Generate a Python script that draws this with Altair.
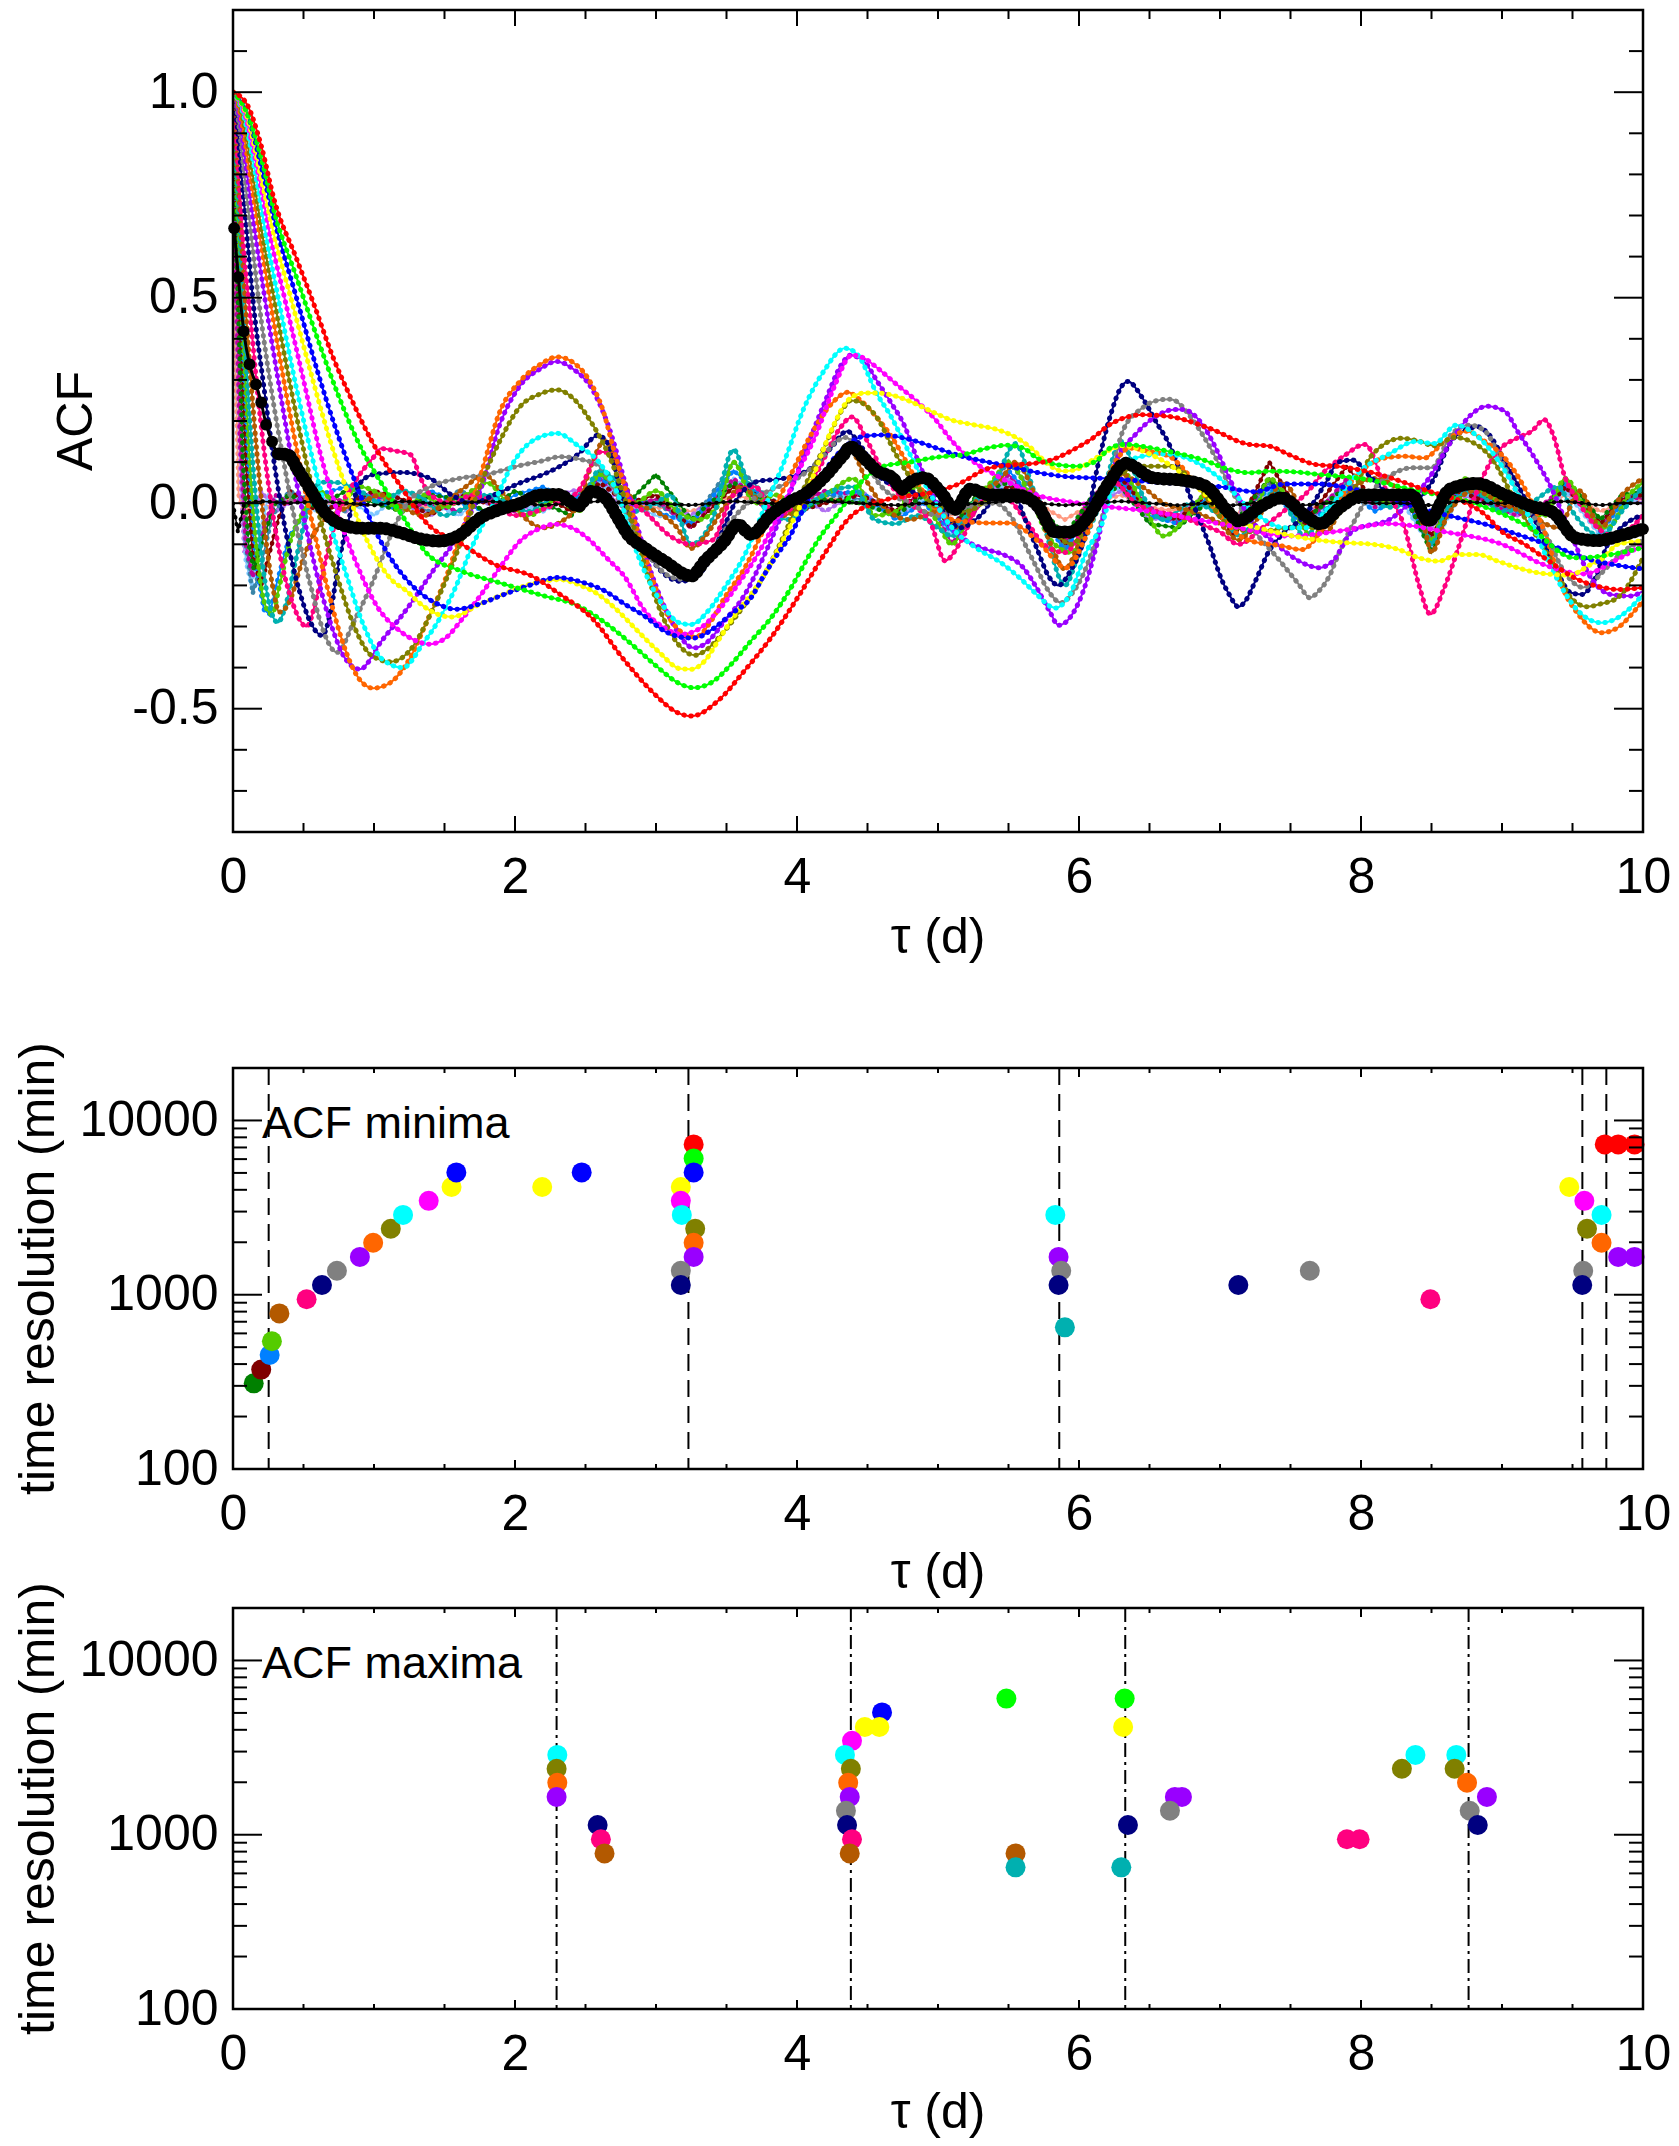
import altair as alt
import pandas as pd

FONT = "Liberation Sans"

# ---------------- ACF curves: (tau [d], ACF) ----------------
RED = [(0,1.0),(0.1,0.97),(0.2,0.87),(0.294,0.736),(0.447,0.598),(0.577,0.481),(0.706,0.358),(0.836,0.256),
       (0.989,0.148),(1.19,0.041),(1.38,-0.051),(1.61,-0.097),(1.85,-0.148),(2.13,-0.179),(2.32,-0.222),
       (2.544,-0.279),(2.78,-0.384),(2.968,-0.457),(3.156,-0.51),(3.25,-0.518),(3.439,-0.481),(3.627,-0.408),
       (3.816,-0.327),(4.004,-0.23),(4.192,-0.125),(4.37,-0.036),(4.6,0.005),(4.99,0.029),(5.134,0.045),
       (5.37,0.086),(5.77,0.102),(5.98,0.134),(6.1,0.159),(6.217,0.191),(6.45,0.215),(6.64,0.211),(6.92,0.183),
       (7.206,0.143),(7.347,0.139),(7.49,0.118),(7.68,0.094),(7.83,0.09),(8.06,0.076),(8.44,0.034),
       (8.88,-0.028),(8.995,-0.068),(9.16,-0.1),(9.3,-0.133),(9.54,-0.186),(9.729,-0.206),(9.824,-0.21),(10.0,-0.205)]

GREEN = [(0,1.0),(0.1,0.95),(0.2,0.84),(0.3,0.70),(0.45,0.55),(0.6,0.40),(0.75,0.26),(0.9,0.14),(1.05,0.05),
         (1.2,-0.03),(1.377,-0.123),(1.61,-0.164),(1.895,-0.194),(2.2,-0.225),(2.45,-0.25),(2.59,-0.279),
         (2.73,-0.315),(2.87,-0.356),(3.015,-0.4),(3.156,-0.437),(3.267,-0.449),(3.39,-0.437),(3.533,-0.392),
         (3.674,-0.335),(3.816,-0.279),(3.957,-0.206),(4.05,-0.149),(4.145,-0.092),(4.3,-0.02),(4.45,0.05),
         (4.616,0.09),(4.8,0.1),(4.993,0.112),(5.18,0.118),(5.35,0.134),(5.485,0.141),(5.605,0.134),(5.7,0.11),
         (5.84,0.094),(5.98,0.09),(6.12,0.102),(6.22,0.134),(6.324,0.143),(6.52,0.134),(6.69,0.122),(6.876,0.106),
         (7.065,0.082),(7.206,0.074),(7.347,0.078),(7.535,0.076),(7.7,0.07),(8.0,0.06),(8.4,0.03),(8.8,0.0),
         (9.2,-0.06),(9.51,-0.133),(9.7,-0.129),(9.85,-0.12),(10.0,-0.108)]

BLUE = [(0,1.0),(0.1,0.95),(0.2,0.82),(0.3,0.68),(0.45,0.5),(0.6,0.32),(0.75,0.16),(0.88,0.04),(1.0,-0.06),
        (1.15,-0.15),(1.3,-0.21),(1.45,-0.245),(1.584,-0.258),(1.75,-0.245),(1.9,-0.225),(2.1,-0.2),(2.3,-0.181),
        (2.473,-0.192),(2.64,-0.214),(2.78,-0.246),(2.92,-0.275),(3.06,-0.311),(3.2,-0.327),(3.267,-0.328),
        (3.415,-0.303),(3.53,-0.27),(3.674,-0.23),(3.77,-0.173),(3.86,-0.125),(3.957,-0.076),(4.05,-0.011),
        (4.2,0.08),(4.35,0.14),(4.475,0.163),(4.603,0.166),(4.8,0.155),(4.99,0.134),(5.13,0.118),(5.3,0.104),
        (5.5,0.09),(5.7,0.075),(5.9,0.065),(6.2,0.06),(6.6,0.05),(7.0,0.04),(7.25,0.028),(7.465,0.047),
        (7.68,0.047),(8.0,0.03),(8.5,-0.02),(8.97,-0.06),(9.11,-0.076),(9.25,-0.092),(9.4,-0.109),(9.6,-0.135),
        (9.8,-0.15),(10.0,-0.16)]

YELLOW = [(0,1.0),(0.1,0.94),(0.2,0.79),(0.3,0.64),(0.41,0.5),(0.55,0.32),(0.7,0.14),(0.82,0.02),(0.95,-0.09),
          (1.118,-0.184),(1.236,-0.215),(1.33,-0.245),(1.45,-0.27),(1.55,-0.277),(1.754,-0.245),(1.895,-0.225),
          (2.036,-0.205),(2.193,-0.19),(2.32,-0.186),(2.45,-0.198),(2.59,-0.222),(2.73,-0.262),(2.87,-0.311),
          (3.015,-0.36),(3.176,-0.403),(3.25,-0.404),(3.345,-0.384),(3.44,-0.335),(3.53,-0.287),(3.72,-0.2),
          (3.91,-0.084),(4.1,0.053),(4.24,0.175),(4.38,0.256),(4.481,0.268),(4.57,0.268),(4.66,0.264),(4.8,0.248),
          (4.95,0.224),(5.09,0.203),(5.25,0.191),(5.42,0.179),(5.558,0.159),(5.675,0.13),(5.77,0.098),
          (5.888,0.078),(5.98,0.082),(6.12,0.11),(6.313,0.14),(6.5,0.12),(6.7,0.08),(6.9,0.02),(7.1,-0.04),
          (7.32,-0.064),(7.465,-0.076),(7.7,-0.09),(7.89,-0.096),(8.08,-0.1),(8.27,-0.113),(8.41,-0.133),
          (8.55,-0.141),(8.69,-0.125),(8.83,-0.125),(8.97,-0.141),(9.11,-0.157),(9.25,-0.169),(9.35,-0.173),
          (9.477,-0.175),(9.63,-0.149),(9.72,-0.133),(9.82,-0.1),(10.0,-0.092)]

MAGENTA = [(0,1.0),(0.08,0.95),(0.18,0.8),(0.27,0.64),(0.365,0.5),(0.5,0.3),(0.62,0.12),(0.74,-0.02),(0.88,-0.15),
           (1.02,-0.25),(1.18,-0.31),(1.3,-0.335),(1.388,-0.343),(1.5,-0.33),(1.63,-0.28),(1.754,-0.225),
           (1.9,-0.153),(2.036,-0.092),(2.18,-0.061),(2.28,-0.051),(2.41,-0.061),(2.53,-0.09),(2.65,-0.133),
           (2.78,-0.18),(2.92,-0.262),(3.06,-0.303),(3.176,-0.319),(3.3,-0.307),(3.44,-0.262),(3.58,-0.198),
           (3.72,-0.125),(3.86,-0.036),(4.0,0.07),(4.145,0.175),(4.26,0.28),(4.39,0.36),(4.475,0.353),(4.57,0.329),
           (4.71,0.288),(4.85,0.248),(4.99,0.2),(5.09,0.155),(5.18,0.122),(5.28,0.094),(5.4,0.07),(5.7,0.02),
           (6.0,0.0),(6.5,-0.02),(7.0,-0.05),(7.5,-0.08),(7.8,-0.07),(8.2,-0.05),(8.6,-0.07),(9.0,-0.1),
           (9.3,-0.15),(9.584,-0.172),(9.8,-0.14),(10.0,-0.1)]

CYAN = [(0,1.0),(0.07,0.95),(0.16,0.8),(0.24,0.64),(0.32,0.5),(0.45,0.28),(0.57,0.1),(0.68,-0.04),(0.8,-0.17),
        (0.93,-0.3),(1.06,-0.38),(1.206,-0.4),(1.35,-0.34),(1.45,-0.29),(1.565,-0.215),(1.7,-0.102),(1.85,0.0),
        (1.99,0.1),(2.13,0.153),(2.3,0.17),(2.45,0.139),(2.59,0.102),(2.73,0.021),(2.87,-0.125),(3.015,-0.23),
        (3.183,-0.293),(3.25,-0.295),(3.37,-0.262),(3.486,-0.206),(3.63,-0.125),(3.77,-0.011),(3.91,0.102),
        (4.05,0.232),(4.19,0.321),(4.34,0.377),(4.43,0.361),(4.57,0.264),(4.66,0.215),(4.8,0.12),(4.95,0.02),
        (5.1,-0.06),(5.25,-0.104),(5.464,-0.149),(5.605,-0.19),(5.7,-0.222),(5.832,-0.255),(5.935,-0.222),
        (6.05,-0.12),(6.17,-0.044),(6.265,0.07),(6.4,0.11),(6.6,0.12),(6.8,0.105),(7.0,0.06),(7.2,-0.01),
        (7.465,-0.06),(7.6,-0.06),(7.8,0.0),(8.0,0.08),(8.2,0.12),(8.386,0.15),(8.52,0.145),(8.676,0.19),
        (8.8,0.17),(9.0,0.09),(9.2,-0.04),(9.35,-0.157),(9.54,-0.262),(9.706,-0.291),(9.82,-0.279),(10.0,-0.222)]

OLIVE = [(0,1.0),(0.06,0.95),(0.14,0.8),(0.21,0.65),(0.29,0.5),(0.41,0.28),(0.52,0.1),(0.62,-0.04),(0.74,-0.18),
         (0.86,-0.3),(0.98,-0.37),(1.119,-0.386),(1.25,-0.36),(1.42,-0.256),(1.61,-0.1),(1.75,0.04),(1.895,0.153),
         (2.036,0.235),(2.18,0.266),(2.295,0.276),(2.41,0.256),(2.544,0.195),(2.67,0.113),(2.83,-0.044),
         (2.97,-0.206),(3.11,-0.319),(3.278,-0.37),(3.345,-0.36),(3.486,-0.311),(3.63,-0.246),(3.77,-0.173),
         (3.91,-0.076),(4.05,0.037),(4.19,0.134),(4.33,0.232),(4.382,0.25),(4.43,0.248),(4.57,0.207),(4.7,0.12),
         (4.85,0.04),(5.0,-0.01),(5.2,-0.02),(5.4,0.02),(5.6,0.03),(5.8,-0.06),(5.95,-0.1),(6.1,-0.02),(6.3,0.07),
         (6.45,0.09),(6.64,0.09),(6.85,0.04),(7.05,-0.05),(7.25,-0.07),(7.5,-0.06),(7.7,-0.06),(7.9,0.0),
         (8.08,0.118),(8.29,0.158),(8.41,0.151),(8.52,0.14),(8.664,0.16),(8.78,0.15),(8.925,0.11),(9.1,0.0),
         (9.35,-0.141),(9.49,-0.23),(9.603,-0.252),(9.7,-0.245),(9.82,-0.23),(10.0,-0.133)]

ORANGE = [(0,1.0),(0.05,0.95),(0.12,0.8),(0.19,0.65),(0.26,0.5),(0.37,0.28),(0.47,0.1),(0.57,-0.06),(0.68,-0.22),
          (0.8,-0.36),(0.9,-0.43),(0.994,-0.45),(1.1,-0.44),(1.25,-0.38),(1.377,-0.286),(1.5,-0.19),(1.61,-0.082),
          (1.754,0.066),(1.895,0.225),(2.036,0.297),(2.18,0.338),(2.3,0.356),(2.41,0.343),(2.53,0.297),
          (2.625,0.225),(2.7,0.13),(2.78,0.037),(2.92,-0.125),(3.015,-0.222),(3.11,-0.287),(3.267,-0.325),
          (3.3,-0.323),(3.39,-0.287),(3.486,-0.23),(3.63,-0.157),(3.77,-0.06),(3.957,0.07),(4.1,0.167),(4.24,0.24),
          (4.363,0.27),(4.43,0.256),(4.57,0.207),(4.66,0.167),(4.76,0.11),(4.85,0.053),(4.95,0.0),(5.1,-0.04),
          (5.346,-0.048),(5.51,-0.048),(5.7,-0.09),(5.91,-0.157),(6.05,-0.08),(6.2,0.06),(6.36,0.134),(6.5,0.126),
          (6.64,0.114),(6.8,0.06),(7.0,-0.03),(7.2,-0.09),(7.44,-0.104),(7.58,-0.113),(7.75,-0.05),(7.95,0.06),
          (8.17,0.11),(8.31,0.114),(8.45,0.11),(8.59,0.15),(8.752,0.175),(8.88,0.15),(9.02,0.11),(9.16,0.037),
          (9.3,-0.068),(9.44,-0.214),(9.54,-0.27),(9.706,-0.315),(9.82,-0.303),(9.96,-0.254),(10.0,-0.238)]

PURPLE = [(0,1.0),(0.04,0.95),(0.1,0.8),(0.16,0.65),(0.225,0.5),(0.32,0.3),(0.41,0.12),(0.5,-0.03),(0.6,-0.18),
          (0.7,-0.3),(0.8,-0.38),(0.9,-0.404),(1.05,-0.337),(1.236,-0.256),(1.42,-0.164),(1.61,-0.072),
          (1.754,0.031),(1.895,0.194),(2.036,0.286),(2.18,0.327),(2.295,0.345),(2.41,0.327),(2.55,0.276),
          (2.65,0.2),(2.83,-0.011),(2.97,-0.173),(3.11,-0.287),(3.267,-0.352),(3.345,-0.343),(3.486,-0.287),
          (3.63,-0.222),(3.77,-0.125),(3.91,-0.011),(4.05,0.118),(4.19,0.24),(4.33,0.345),(4.374,0.36),
          (4.475,0.345),(4.57,0.296),(4.66,0.248),(4.76,0.19),(4.85,0.11),(4.95,0.03),(5.05,-0.04),(5.205,-0.092),
          (5.346,-0.113),(5.464,-0.125),(5.605,-0.157),(5.7,-0.206),(5.79,-0.262),(5.855,-0.297),(5.935,-0.279),
          (6.03,-0.214),(6.12,-0.109),(6.265,0.102),(6.4,0.167),(6.545,0.211),(6.68,0.228),(6.735,0.228),
          (6.876,0.191),(6.97,0.134),(7.065,0.062),(7.2,-0.03),(7.4,-0.1),(7.61,-0.149),(7.7,-0.157),(7.8,-0.141),
          (7.94,-0.068),(8.22,-0.036),(8.5,0.07),(8.64,0.151),(8.78,0.215),(8.893,0.236),(9.02,0.224),(9.11,0.175),
          (9.21,0.122),(9.35,0.037),(9.49,-0.076),(9.63,-0.181),(9.77,-0.222),(9.91,-0.226),(10.0,-0.214)]

GRAY = [(0,1.0),(0.03,0.95),(0.08,0.8),(0.13,0.65),(0.18,0.5),(0.27,0.28),(0.36,0.1),(0.45,-0.06),(0.55,-0.2),
        (0.64,-0.31),(0.737,-0.363),(0.86,-0.286),(1.0,-0.184),(1.14,-0.061),(1.236,0.0),(1.4,0.04),(1.6,0.06),
        (1.8,0.07),(2.04,0.092),(2.18,0.102),(2.32,0.113),(2.46,0.107),(2.6,0.09),(2.75,0.0),(2.9,-0.1),
        (3.09,-0.177),(3.176,-0.185),(3.3,-0.16),(3.39,-0.125),(3.5,-0.06),(3.65,0.0),(3.8,0.03),(4.0,0.06),
        (4.15,0.1),(4.28,0.15),(4.347,0.16),(4.45,0.12),(4.6,0.04),(4.8,0.0),(5.0,-0.03),(5.2,-0.01),(5.4,0.0),
        (5.55,-0.05),(5.63,-0.109),(5.7,-0.157),(5.77,-0.206),(5.874,-0.242),(5.95,-0.22),(6.03,-0.173),
        (6.17,-0.028),(6.31,0.175),(6.45,0.232),(6.59,0.252),(6.645,0.253),(6.69,0.248),(6.78,0.215),
        (6.876,0.167),(6.97,0.11),(7.1,0.02),(7.25,-0.07),(7.4,-0.13),(7.56,-0.198),(7.637,-0.23),(7.7,-0.214),
        (7.77,-0.181),(7.84,-0.125),(7.94,-0.052),(8.08,0.03),(8.22,0.07),(8.36,0.086),(8.5,0.086),(8.64,0.167),
        (8.771,0.19),(8.88,0.175),(9.0,0.1),(9.15,0.0),(9.3,-0.068),(9.44,-0.166),(9.576,-0.205),(9.65,-0.19),
        (9.72,-0.165),(9.85,-0.12),(10.0,-0.09)]

NAVY = [(0,1.0),(0.02,0.95),(0.06,0.8),(0.1,0.65),(0.14,0.5),(0.22,0.28),(0.3,0.08),(0.38,-0.08),(0.46,-0.2),
        (0.55,-0.29),(0.631,-0.322),(0.7,-0.25),(0.74,-0.164),(0.836,-0.02),(0.906,0.051),(1.0,0.07),(1.2,0.075),
        (1.4,0.06),(1.55,0.02),(1.7,0.0),(1.85,0.02),(2.04,0.05),(2.2,0.07),(2.32,0.09),(2.46,0.123),
        (2.586,0.165),(2.65,0.15),(2.78,-0.011),(2.92,-0.109),(3.06,-0.173),(3.176,-0.19),(3.25,-0.185),
        (3.345,-0.157),(3.44,-0.092),(3.58,0.013),(3.72,0.053),(3.9,0.06),(4.1,0.086),(4.24,0.134),(4.355,0.175),
        (4.45,0.14),(4.6,0.06),(4.8,0.03),(5.0,0.0),(5.15,-0.06),(5.3,-0.03),(5.45,0.03),(5.55,0.02),
        (5.605,-0.028),(5.7,-0.109),(5.79,-0.181),(5.855,-0.2),(5.93,-0.17),(6.03,-0.092),(6.12,0.07),
        (6.217,0.207),(6.31,0.288),(6.347,0.296),(6.45,0.256),(6.545,0.199),(6.64,0.143),(6.735,0.062),
        (6.83,-0.019),(6.923,-0.1),(7.017,-0.19),(7.065,-0.222),(7.13,-0.252),(7.18,-0.238),(7.25,-0.19),
        (7.347,-0.117),(7.44,-0.076),(7.6,-0.03),(7.75,0.05),(7.84,0.1),(7.94,0.105),(8.05,0.07),(8.2,0.02),
        (8.35,0.0),(8.5,0.05),(8.64,0.151),(8.78,0.183),(8.828,0.186),(8.9,0.17),(9.02,0.102),(9.16,0.013),
        (9.3,-0.092),(9.4,-0.173),(9.49,-0.218),(9.569,-0.222),(9.65,-0.19),(9.75,-0.1),(9.82,-0.068),(10.0,-0.028)]

CRIMSON = [(0,1.0),(0.02,0.9),(0.05,0.75),(0.08,0.6),(0.11,0.5),(0.18,0.25),(0.25,0.05),(0.33,-0.12),(0.42,-0.24),
           (0.522,-0.3),(0.6,-0.22),(0.647,-0.153),(0.74,-0.03),(0.86,0.05),(1.0,0.113),(1.05,0.133),(1.14,0.128),
           (1.26,0.118),(1.33,0.061),(1.4,0.02),(1.55,0.0),(1.7,0.02),(1.85,0.0),(2.0,-0.03),(2.15,-0.02),
           (2.3,0.0),(2.45,0.03),(2.609,0.125),(2.68,0.12),(2.8,0.02),(2.95,-0.03),(3.1,-0.08),(3.25,-0.1),
           (3.4,-0.09),(3.55,0.02),(3.7,0.04),(3.85,-0.03),(4.0,0.0),(4.15,0.08),(4.3,0.18),(4.39,0.21),(4.5,0.15),
           (4.65,0.05),(4.8,0.0),(4.95,-0.05),(5.05,-0.14),(5.15,-0.1),(5.3,0.0),(5.45,0.02),(5.6,-0.03),
           (5.75,-0.1),(5.9,-0.12),(6.05,-0.05),(6.25,0.05),(6.4,0.0),(6.55,-0.02),(6.7,-0.03),(6.85,-0.05),
           (7.0,-0.07),(7.13,-0.1),(7.3,-0.06),(7.45,-0.02),(7.6,0.02),(7.75,0.08),(7.9,0.12),(7.99,0.14),
           (8.03,0.143),(8.17,0.037),(8.31,-0.06),(8.41,-0.198),(8.492,-0.27),(8.59,-0.206),(8.69,-0.109),
           (8.83,0.037),(8.97,0.126),(9.11,0.159),(9.21,0.175),(9.3,0.203),(9.37,0.159),(9.44,0.07),(9.54,0.005),
           (9.65,-0.05),(9.8,-0.08),(10.0,-0.03)]

BROWN = [(0,0.97),(0.02,0.88),(0.05,0.7),(0.085,0.5),(0.15,0.2),(0.22,-0.05),(0.28,-0.2),(0.329,-0.265),
         (0.4,-0.24),(0.48,-0.153),(0.55,-0.09),(0.62,-0.051),(0.75,-0.02),(0.9,0.0),(1.05,0.02),(1.2,-0.01),
         (1.35,-0.03),(1.5,0.0),(1.65,0.04),(1.78,0.07),(1.9,0.03),(2.05,-0.03),(2.2,-0.06),(2.3,-0.05),
         (2.45,0.0),(2.55,0.1),(2.635,0.153),(2.72,0.1),(2.85,0.0),(3.0,-0.02),(3.15,-0.06),(3.25,-0.11),
         (3.35,-0.08),(3.5,0.0),(3.6,0.04),(3.75,0.0),(3.9,-0.03),(4.05,0.0),(4.2,0.06),(4.374,0.13),(4.5,0.05),
         (4.65,-0.02),(4.8,-0.04),(5.0,-0.02),(5.15,-0.06),(5.3,0.02),(5.45,0.06),(5.55,0.1),(5.65,0.05),
         (5.8,-0.1),(5.9,-0.16),(6.0,-0.1),(6.15,0.0),(6.3,0.07),(6.45,0.04),(6.6,0.0),(6.8,-0.02),(7.0,-0.05),
         (7.13,-0.09),(7.3,-0.02),(7.45,0.05),(7.6,-0.03),(7.75,-0.07),(7.9,0.02),(8.1,0.06),(8.3,0.02),
         (8.45,-0.06),(8.5,-0.12),(8.6,-0.04),(8.8,0.03),(9.0,0.0),(9.2,-0.03),(9.4,-0.06),(9.55,0.03),
         (9.7,-0.06),(9.85,0.02),(10.0,0.06)]

TEAL = [(0,0.95),(0.02,0.83),(0.045,0.68),(0.07,0.5),(0.13,0.15),(0.2,-0.12),(0.26,-0.25),(0.318,-0.29),
        (0.38,-0.24),(0.436,-0.153),(0.52,-0.03),(0.624,0.051),(0.75,0.05),(0.9,0.03),(1.05,0.0),(1.2,0.03),
        (1.35,0.01),(1.5,-0.03),(1.65,-0.01),(1.8,0.02),(1.95,0.0),(2.1,-0.02),(2.3,0.02),(2.45,0.0),(2.6,0.08),
        (2.7,0.06),(2.85,-0.02),(3.0,0.0),(3.1,0.02),(3.25,-0.1),(3.4,-0.04),(3.55,0.13),(3.65,0.05),
        (3.8,-0.02),(3.95,-0.04),(4.1,0.0),(4.25,0.03),(4.4,0.04),(4.55,-0.04),(4.7,-0.05),(4.85,-0.03),
        (5.0,-0.06),(5.1,-0.08),(5.25,0.0),(5.4,0.05),(5.55,0.145),(5.65,0.06),(5.75,-0.05),(5.9,-0.2),
        (6.0,-0.12),(6.15,0.0),(6.3,0.15),(6.45,0.02),(6.6,-0.04),(6.8,0.0),(7.0,-0.03),(7.15,-0.08),(7.3,0.0),
        (7.4,0.03),(7.6,-0.08),(7.8,0.0),(8.0,0.02),(8.2,-0.01),(8.4,0.0),(8.5,-0.1),(8.6,-0.02),(8.8,0.03),
        (9.0,-0.02),(9.2,0.0),(9.4,0.04),(9.5,-0.02),(9.7,-0.08),(9.85,-0.02),(10.0,0.04)]

YELLOWGREEN = [(0,0.95),(0.02,0.8),(0.04,0.65),(0.06,0.5),(0.12,0.1),(0.18,-0.15),(0.23,-0.25),(0.276,-0.27),
               (0.33,-0.2),(0.4,-0.1),(0.5,-0.02),(0.6,0.03),(0.75,0.0),(0.9,0.04),(1.05,0.02),(1.2,-0.02),
               (1.35,0.02),(1.5,-0.01),(1.65,0.02),(1.8,0.05),(1.95,0.0),(2.1,-0.03),(2.3,0.01),(2.45,-0.02),
               (2.6,0.07),(2.72,0.04),(2.85,0.0),(3.0,0.03),(3.15,-0.02),(3.3,-0.04),(3.45,0.0),(3.55,0.1),(3.7,0.0),
               (3.85,0.02),(4.0,-0.01),(4.2,0.02),(4.4,0.06),(4.55,-0.03),(4.7,-0.02),(4.85,0.04),(5.0,-0.05),
               (5.1,-0.1),(5.25,0.0),(5.4,0.06),(5.5,0.1),(5.65,0.02),(5.8,-0.09),(5.95,-0.12),(6.1,0.0),(6.3,0.08),
               (6.45,0.0),(6.6,-0.08),(6.75,-0.04),(6.9,0.02),(7.1,-0.05),(7.25,-0.02),(7.35,0.06),(7.5,0.0),
               (7.65,-0.08),(7.8,-0.02),(8.0,0.03),(8.2,0.0),(8.35,0.02),(8.5,-0.09),(8.6,0.0),(8.75,0.06),
               (8.9,0.02),(9.1,0.0),(9.3,-0.03),(9.45,0.06),(9.6,-0.02),(9.75,-0.06),(9.9,0.02),(10.0,0.05)]

# fast-decaying curves: first points, then values on a common tau grid
NZ_TAU = [0.4,0.6,0.8,1.0,1.2,1.4,1.6,1.8,2.0,2.2,2.4,2.6,2.8,3.0,3.25,3.55,3.8,4.0,4.2,4.45,4.7,4.9,5.1,5.3,
          5.5,5.7,5.9,6.1,6.3,6.5,6.7,6.9,7.1,7.35,7.6,7.9,8.1,8.3,8.5,8.7,8.9,9.1,9.3,9.45,9.7,9.85,10.0]

LB_HEAD = [(0,0.93),(0.02,0.75),(0.05,0.5),(0.1,0.12),(0.16,-0.15),(0.22,-0.26),(0.26,-0.27),(0.32,-0.18)]
LB_GRID = [-0.08,0.02,0.04,0.01, -0.02,0.03,0.00,-0.02, 0.02,0.04,0.00,0.06, 0.02,-0.02,-0.05,0.08,
           0.00,-0.03,0.02,0.03, -0.04,0.00,-0.07,0.02, 0.08,0.00,-0.12,0.00, 0.05,-0.03,-0.05,0.01,
           -0.07,0.04,-0.06,0.03, -0.02,0.02,-0.10,0.04, 0.01,-0.02,-0.03,0.05, -0.07,0.00,0.03]
MA_HEAD = [(0,0.9),(0.02,0.7),(0.04,0.5),(0.09,0.1),(0.14,-0.13),(0.2,-0.2),(0.26,-0.12),(0.32,-0.04)]
MA_GRID = [0.03,-0.02,0.00,0.03, 0.01,-0.03,0.02,0.00, -0.01,0.02,-0.02,0.05, 0.00,0.02,-0.06,0.04,
           0.01,-0.02,0.00,0.02, -0.02,0.03,-0.05,0.00, 0.04,0.02,-0.10,0.01, 0.06,-0.02,-0.04,0.02,
           -0.08,0.10,-0.05,0.09, 0.00,0.01,-0.08,0.03, 0.00,-0.01,-0.02,0.04, -0.05,0.01,0.02]
DG_HEAD = [(0,0.88),(0.015,0.7),(0.035,0.5),(0.07,0.1),(0.11,-0.1),(0.147,-0.16),(0.2,-0.1),(0.3,0.0)]
DG_GRID = [0.02,-0.01,0.03,0.00, -0.02,0.02,0.01,-0.02, 0.03,0.00,-0.03,0.08, 0.00,0.07,-0.04,0.05,
           0.00,-0.02,0.01,0.00, -0.03,0.02,-0.06,0.03, 0.05,0.00,-0.08,0.02, 0.04,-0.05,-0.06,0.00,
           -0.05,0.06,-0.04,0.04, 0.02,0.03,-0.12,0.05, 0.01,0.00,-0.02,0.06, -0.04,0.02,0.03]
SA_HEAD = [(0,0.7),(0.02,0.3),(0.04,0.02),(0.08,-0.03),(0.15,0.01),(0.25,-0.01),(0.32,0.0)]
SA_GRID = [0.01,0.00,-0.01,0.01, 0.00,-0.01,0.00,0.01, -0.01,0.00,0.01,0.02, 0.00,-0.01,-0.02,0.02,
           0.00,-0.01,0.01,0.00, -0.02,0.00,-0.03,0.01, 0.02,0.00,-0.04,0.00, 0.02,-0.01,-0.02,0.00,
           -0.03,0.02,-0.02,0.02, 0.00,0.01,-0.03,0.01, 0.00,0.00,-0.01,0.02, -0.02,0.00,0.01]
LV_HEAD = [(0,0.8),(0.02,0.5),(0.05,0.1),(0.08,-0.12),(0.12,-0.05),(0.2,0.03),(0.3,-0.02)]
LV_GRID = [0.00,0.02,-0.02,0.03, 0.00,-0.03,0.02,0.00, -0.02,0.00,0.03,0.04, -0.02,0.00,-0.03,0.05,
           -0.01,0.02,-0.02,0.03, -0.03,0.00,-0.05,0.01, 0.06,-0.02,-0.08,0.00, 0.03,-0.04,-0.03,0.02,
           -0.04,0.05,-0.03,0.04, 0.00,0.02,-0.06,0.02, 0.00,-0.03,-0.02,0.04, -0.05,0.02,0.00]
LT_HEAD = [(0,0.85),(0.02,0.6),(0.05,0.2),(0.09,-0.14),(0.13,-0.2),(0.18,-0.1),(0.25,0.02),(0.32,0.0)]
LT_GRID = [0.02,-0.02,0.01,-0.03, 0.03,0.00,-0.03,0.02, 0.00,-0.02,0.02,0.05, 0.00,-0.03,-0.04,0.06,
           0.00,-0.02,0.03,0.00, -0.03,0.01,-0.08,0.00, 0.05,0.01,-0.10,0.00, 0.04,-0.02,-0.05,0.00,
           -0.06,0.03,-0.05,0.02, -0.01,0.00,-0.11,0.02, 0.02,-0.01,-0.02,0.03, -0.08,-0.01,0.02]
ST_HEAD = [(0,0.9),(0.02,0.7),(0.05,0.3),(0.09,-0.1),(0.14,-0.22),(0.2,-0.15),(0.28,-0.03)]
ST_GRID = [0.03,0.00,-0.02,0.02, 0.00,-0.02,0.03,0.01, -0.01,0.02,0.00,0.07, 0.01,0.00,-0.05,0.10,
           0.01,-0.01,0.02,0.01, -0.03,0.02,-0.06,0.01, 0.10,0.02,-0.11,0.00, 0.08,-0.02,-0.04,0.01,
           -0.06,0.05,-0.05,0.05, 0.01,0.02,-0.10,0.04, 0.00,-0.02,-0.02,0.05, -0.06,0.00,0.04]
PK_HEAD = [(0,0.8),(0.02,0.55),(0.05,0.15),(0.09,-0.1),(0.14,-0.18),(0.2,-0.08),(0.3,0.02)]
PK_GRID = [0.00,0.03,0.00,0.02, -0.01,0.00,-0.02,0.02, -0.02,0.03,0.00,0.06, -0.01,0.01,-0.06,0.06,
           -0.02,0.00,0.03,0.02, -0.02,0.03,-0.10,0.00, 0.07,0.00,-0.09,0.02, 0.06,-0.01,-0.05,0.00,
           -0.06,0.06,-0.06,0.06, -0.01,0.03,-0.09,0.05, 0.00,-0.03,0.00,0.04, -0.06,0.02,0.01]

ZERO_HEAD = [(0.0,0.0),(0.035,-0.07),(0.08,0.0),(0.2,0.005)]
ZERO_GRID = [0.0,0.005,0.0,-0.005, 0.005,0.0,0.0,0.005, 0.0,-0.005,0.0,0.005, 0.0,0.0,-0.005,0.005,
             0.0,0.0,0.005,0.0, -0.005,0.0,-0.005,0.0, 0.005,0.0,-0.005,0.0, 0.005,0.0,-0.005,0.0,
             -0.005,0.005,-0.005,0.005, 0.0,0.0,-0.005,0.005, 0.0,0.0,0.0,0.005, -0.005,0.0,0.0]

MEAN = [(0.008,0.669),(0.038,0.55),(0.076,0.418),(0.117,0.338),(0.163,0.289),(0.2,0.245),(0.235,0.191),
        (0.277,0.15),(0.322,0.12),(0.388,0.118),(0.459,0.082),(0.553,0.031),(0.647,-0.02),(0.765,-0.051),
        (0.906,-0.061),(1.05,-0.061),(1.19,-0.072),(1.33,-0.087),(1.47,-0.092),(1.61,-0.077),(1.754,-0.036),
        (1.895,-0.015),(2.04,0.0),(2.18,0.02),(2.309,0.021),(2.45,-0.007),(2.544,0.029),(2.64,0.013),
        (2.73,-0.036),(2.8,-0.076),(2.92,-0.109),(3.06,-0.141),(3.25,-0.177),(3.345,-0.141),(3.486,-0.092),
        (3.58,-0.052),(3.674,-0.076),(3.816,-0.028),(3.957,0.005),(4.05,0.021),(4.19,0.062),(4.33,0.118),
        (4.38,0.137),(4.475,0.11),(4.57,0.078),(4.677,0.062),(4.75,0.034),(4.79,0.048),(4.9,0.062),(5.02,0.027),
        (5.12,-0.015),(5.23,0.034),(5.37,0.02),(5.56,0.02),(5.71,-0.008),(5.83,-0.07),(5.94,-0.07),
        (6.06,-0.036),(6.21,0.048),(6.33,0.097),(6.52,0.062),(6.75,0.055),(6.9,0.041),(7.06,-0.022),
        (7.13,-0.043),(7.29,-0.008),(7.44,0.013),(7.6,-0.029),(7.71,-0.05),(7.86,-0.008),(8.02,0.02),(8.25,0.02),
        (8.36,0.02),(8.48,-0.043),(8.63,0.034),(8.82,0.048),(9.02,0.02),(9.21,-0.008),(9.36,-0.022),
        (9.52,-0.084),(9.67,-0.091),(9.86,-0.077),(10.0,-0.063)]

# ---------------- ACF extrema: (tau [d], time resolution [min], series) ----------------
MINIMA = [(0.147,310,"DG"),(0.2,372,"MA"),(0.26,451,"LB"),(0.276,541,"YG"),(0.329,781,"BR"),(0.522,942,"CR"),
          (0.631,1137,"N"),(0.737,1372,"GR"),(0.9,1648,"P"),(0.994,1987,"O"),(1.119,2390,"OL"),(1.206,2870,"C"),
          (1.388,3458,"M"),(1.55,4150,"Y"),(1.584,5035,"B"),(2.193,4150,"Y"),(2.473,5035,"B"),
          (3.267,7290,"R"),(3.267,6040,"G"),(3.267,5035,"B"),(3.176,4150,"Y"),(3.176,3458,"M"),(3.183,2870,"C"),
          (3.278,2390,"OL"),(3.267,1987,"O"),(3.267,1648,"P"),(3.176,1372,"GR"),(3.176,1137,"N"),
          (5.832,2870,"C"),(5.855,1648,"P"),(5.874,1372,"GR"),(5.855,1137,"N"),(5.90,650,"T"),
          (7.13,1137,"N"),(7.637,1372,"GR"),(8.492,942,"CR"),
          (9.477,4150,"Y"),(9.584,3458,"M"),(9.706,2870,"C"),(9.603,2390,"OL"),(9.706,1987,"O"),
          (9.824,1648,"P"),(9.94,1648,"P"),(9.576,1372,"GR"),(9.569,1137,"N"),
          (9.729,7290,"R"),(9.824,7290,"R"),(9.94,7290,"R")]

MAXIMA = [(2.30,2870,"C"),(2.295,2390,"OL"),(2.30,1987,"O"),(2.295,1648,"P"),(2.586,1137,"N"),(2.609,942,"CR"),
          (2.635,781,"BR"),(4.603,5035,"B"),(4.481,4150,"Y"),(4.584,4150,"Y"),(4.39,3458,"M"),(4.34,2870,"C"),
          (4.382,2390,"OL"),(4.363,1987,"O"),(4.374,1648,"P"),(4.347,1372,"GR"),(4.355,1137,"N"),
          (4.39,942,"CR"),(4.374,781,"BR"),(5.485,6040,"G"),(5.55,781,"BR"),(5.55,650,"T"),
          (6.324,6040,"G"),(6.313,4150,"Y"),(6.347,1137,"N"),(6.30,650,"T"),(6.68,1648,"P"),(6.73,1648,"P"),
          (6.645,1372,"GR"),(7.90,942,"CR"),(7.99,942,"CR"),(8.29,2390,"OL"),(8.386,2870,"C"),(8.676,2870,"C"),
          (8.664,2390,"OL"),(8.752,1987,"O"),(8.893,1648,"P"),(8.771,1372,"GR"),(8.828,1137,"N")]

MIN_LINES = [0.253, 3.23, 5.86, 9.57, 9.74]
MAX_LINES = [2.295, 4.382, 6.328, 8.763]

X_TICKS = [0, 2, 4, 6, 8, 10]
ACF_TICKS = [-0.5, 0.0, 0.5, 1.0]
RES_TICKS = [100, 1000, 10000]

XT_MAJOR = [2, 4, 6, 8]
XT_MINOR = [0.5, 1, 1.5, 2.5, 3, 3.5, 4.5, 5, 5.5, 6.5, 7, 7.5, 8.5, 9, 9.5]
AT_MAJOR = [-0.5, 0.0, 0.5, 1.0]
AT_MINOR = [-0.7, -0.6, -0.4, -0.3, -0.2, -0.1, 0.1, 0.2, 0.3, 0.4, 0.6, 0.7, 0.8, 0.9, 1.1]
RT_MAJOR = [1000, 10000]
RT_MINOR = [200, 300, 400, 500, 600, 700, 800, 900, 2000, 3000, 4000, 5000, 6000, 7000, 8000, 9000]

X_TITLE = "τ (d)"
TOP_Y_TITLE = "ACF"
LOW_Y_TITLE = "time resolution (min)"

COLORS = {"R": "#FF0000", "G": "#00FF00", "B": "#0000FF", "Y": "#FFFF00", "M": "#FF00FF", "C": "#00FFFF",
          "OL": "#808000", "O": "#FF6600", "P": "#9900FF", "GR": "#808080", "N": "#000080", "CR": "#FF0080",
          "BR": "#B35900", "T": "#00B0B0", "YG": "#55CC00", "LB": "#0080FF", "MA": "#800000", "DG": "#008000",
          "SA": "#FF9980", "LV": "#B070F0", "LT": "#80C8FF", "ST": "#3A85A8", "PK": "#C0009A"}

MAIN = [("YG", YELLOWGREEN), ("T", TEAL), ("BR", BROWN), ("CR", CRIMSON), ("N", NAVY), ("GR", GRAY),
        ("P", PURPLE), ("O", ORANGE), ("OL", OLIVE), ("C", CYAN), ("M", MAGENTA), ("Y", YELLOW),
        ("B", BLUE), ("G", GREEN), ("R", RED)]
FAST = [("SA", SA_HEAD, SA_GRID), ("LV", LV_HEAD, LV_GRID), ("LT", LT_HEAD, LT_GRID), ("ST", ST_HEAD, ST_GRID),
        ("PK", PK_HEAD, PK_GRID), ("LB", LB_HEAD, LB_GRID), ("MA", MA_HEAD, MA_GRID), ("DG", DG_HEAD, DG_GRID)]

# ---------------- tables ----------------
df_main = pd.DataFrame([{"tau": t, "acf": a, "s": c} for c, pts in MAIN for t, a in pts])
df_fast = pd.DataFrame([{"tau": t, "acf": a, "s": c} for c, head, grid in FAST
                        for t, a in head + list(zip(NZ_TAU, grid))])
df_zero = pd.DataFrame([{"tau": t, "acf": a} for t, a in ZERO_HEAD + list(zip(NZ_TAU, ZERO_GRID))])
df_mean = pd.DataFrame([{"tau": t, "acf": a} for t, a in MEAN])
df_min = pd.DataFrame(MINIMA, columns=["tau", "res", "s"])
df_max = pd.DataFrame(MAXIMA, columns=["tau", "res", "s"])

# ---------------- scales / axes ----------------
W = 1410
H_TOP = 822
H_LOW = 401
FS = 50

X_SCALE = alt.Scale(domain=[0, 10], nice=False, zero=False)
ACF_SCALE = alt.Scale(domain=[-0.8, 1.2], nice=False, zero=False)
RES_SCALE = alt.Scale(type="log", domain=[100, 20000], nice=False)
COLOR_SCALE = alt.Scale(domain=list(COLORS.keys()), range=list(COLORS.values()))

XAXIS = alt.Axis(values=X_TICKS, format="d", labelFontSize=FS, labelFont=FONT, ticks=False, tickSize=0,
                 domain=False, grid=False, labelPadding=20, labelFlush=False, labelOverlap=False,
                 labelColor="black", title=None)
ACF_AXIS = alt.Axis(values=ACF_TICKS, labelExpr="replace(format(datum.value, '.1f'), '\u2212', '-')",
                    labelFontSize=FS, labelFont=FONT, ticks=False, tickSize=0, domain=False, grid=False,
                    labelPadding=15, labelColor="black", labelFlush=False, title=None)
RES_AXIS = alt.Axis(values=RES_TICKS, format="d", labelFontSize=FS, labelFont=FONT, ticks=False, tickSize=0,
                    domain=False, grid=False, labelPadding=15, labelColor="black", labelFlush=False, title=None)


def xenc(f):
    return alt.X(f"{f}:Q", scale=X_SCALE, axis=XAXIS, title=None)


def yacf(f):
    return alt.Y(f"{f}:Q", scale=ACF_SCALE, axis=ACF_AXIS, title=None)


def yres(f):
    return alt.Y(f"{f}:Q", scale=RES_SCALE, axis=RES_AXIS, title=None)


COLOR = alt.Color("s:N", scale=COLOR_SCALE, legend=None)


def frame_layer(H):
    return alt.Chart(pd.DataFrame({"a": [0]})).mark_rect(
        fillOpacity=0, stroke="black", strokeWidth=2.5).encode(
        x=alt.value(0), x2=alt.value(W), y=alt.value(0), y2=alt.value(H))


def tick_layers(H, yfun, ymaj, ymin, xmaj_len, xmin_len, ymaj_len, ymin_len):
    out = []
    for vals, L in ((XT_MAJOR, xmaj_len), (XT_MINOR, xmin_len)):
        b = alt.Chart(pd.DataFrame({"v": vals})).mark_rule(color="black", strokeWidth=2)
        out.append(b.encode(x=xenc("v"), y=alt.value(H), y2=alt.value(H - L)))
        out.append(b.encode(x=xenc("v"), y=alt.value(0), y2=alt.value(L)))
    for vals, L in ((ymaj, ymaj_len), (ymin, ymin_len)):
        b = alt.Chart(pd.DataFrame({"v": vals})).mark_rule(color="black", strokeWidth=2)
        out.append(b.encode(y=yfun("v"), x=alt.value(0), x2=alt.value(L)))
        out.append(b.encode(y=yfun("v"), x=alt.value(W), x2=alt.value(W - L)))
    return out


def title_layers(H, ytitle, ytitle_x, xtitle_dy):
    xt = alt.Chart(pd.DataFrame({"t": [X_TITLE]})).mark_text(
        fontSize=FS, font=FONT, color="black", align="center", baseline="middle").encode(
        text="t:N", x=alt.value(W / 2), y=alt.value(H + xtitle_dy))
    yt = alt.Chart(pd.DataFrame({"t": [ytitle]})).mark_text(
        fontSize=FS, font=FONT, color="black", align="center", baseline="middle", angle=270).encode(
        text="t:N", x=alt.value(ytitle_x), y=alt.value(H / 2))
    return [xt, yt]


def left_spacer(H, x):
    return alt.Chart(pd.DataFrame({"a": [0]})).mark_rule(strokeOpacity=0, opacity=0).encode(
        x=alt.value(x), y=alt.value(0), y2=alt.value(H))


# ---------------- top panel: ACF ----------------
fast_line = alt.Chart(df_fast).mark_line(strokeWidth=1.8, clip=True).encode(
    x=xenc("tau"), y=yacf("acf"), color=COLOR)
fast_dots = alt.Chart(df_fast).mark_line(strokeWidth=4.5, strokeDash=[0.5, 6.5], strokeCap="round",
                                         clip=True).encode(x=xenc("tau"), y=yacf("acf"), color=COLOR)
main_line = alt.Chart(df_main).mark_line(strokeWidth=2, interpolate="monotone", clip=True).encode(
    x=xenc("tau"), y=yacf("acf"), color=COLOR)
main_dots = alt.Chart(df_main).mark_line(strokeWidth=5, strokeDash=[0.5, 6.5], strokeCap="round",
                                         interpolate="monotone", clip=True).encode(
    x=xenc("tau"), y=yacf("acf"), color=COLOR)
zero_line = alt.Chart(df_zero).mark_line(color="black", strokeWidth=1.5, clip=True).encode(
    x=xenc("tau"), y=yacf("acf"))
zero_dots = alt.Chart(df_zero).mark_line(color="black", strokeWidth=4, strokeDash=[0.5, 6.5], strokeCap="round",
                                         clip=True).encode(x=xenc("tau"), y=yacf("acf"))
mean_line = alt.Chart(df_mean).mark_line(color="black", strokeWidth=3, interpolate="monotone", clip=True).encode(
    x=xenc("tau"), y=yacf("acf"))
mean_beads = alt.Chart(df_mean).transform_filter("datum.tau >= 0.3").mark_line(
    color="black", strokeWidth=13, strokeDash=[0.5, 5.5], strokeCap="round", interpolate="monotone",
    clip=True).encode(x=xenc("tau"), y=yacf("acf"))
mean_pts = alt.Chart(df_mean).mark_circle(color="black", size=140, opacity=1).encode(
    x=xenc("tau"), y=yacf("acf"))
spacer = alt.Chart(pd.DataFrame({"a": [0]})).mark_rule(strokeOpacity=0, opacity=0).encode(
    x=alt.value(0), y=alt.value(H_TOP), y2=alt.value(H_TOP + 226))

top = alt.layer(
    fast_line, fast_dots, main_line, main_dots, zero_line, zero_dots, mean_line, mean_beads, mean_pts,
    *tick_layers(H_TOP, yacf, AT_MAJOR, AT_MINOR, 16, 9, 29, 14), frame_layer(H_TOP),
    *title_layers(H_TOP, TOP_Y_TITLE, -156, 106), spacer
).properties(width=W, height=H_TOP)


# ---------------- lower panels ----------------
def extrema_panel(df, lines, dash, label):
    rules = alt.Chart(pd.DataFrame({"v": lines})).mark_rule(color="black", strokeWidth=2, strokeDash=dash).encode(
        x=xenc("v"))
    pts = alt.Chart(df).mark_circle(size=400, opacity=1).encode(x=xenc("tau"), y=yres("res"), color=COLOR)
    txt = alt.Chart(pd.DataFrame({"t": [label]})).mark_text(
        align="left", baseline="alphabetic", fontSize=45, font=FONT, color="black").encode(
        text="t:N", x=alt.value(29), y=alt.value(70))
    return alt.layer(rules, pts, txt, *tick_layers(H_LOW, yres, RT_MAJOR, RT_MINOR, 9, 5, 29, 14),
                     frame_layer(H_LOW), *title_layers(H_LOW, LOW_Y_TITLE, -194, 104),
                     left_spacer(H_LOW, -225)).properties(width=W, height=H_LOW)


mid = extrema_panel(df_min, MIN_LINES, [17, 9], "ACF minima")
bot = extrema_panel(df_max, MAX_LINES, [14, 5, 3, 5], "ACF maxima")

chart = alt.vconcat(top, mid, bot, spacing=-16).properties(
    padding={"left": 0, "top": 0, "right": 0, "bottom": 0}
).configure(background="white").configure_view(strokeWidth=0)

chart.save("out.html", embed_options={"renderer": "svg", "actions": False})
